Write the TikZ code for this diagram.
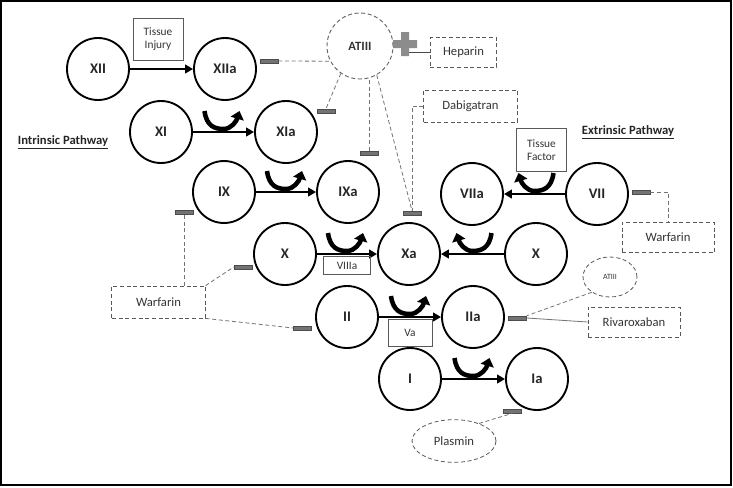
\documentclass[tikz,border=0pt]{standalone}
\usepackage{fontspec}
\setmainfont{Carlito}
\usetikzlibrary{positioning,arrows.meta,shapes.geometric}

\tikzset{
  cofr/.pic={\draw[cof] (-19,-21) .. controls (-17,-6) and (-9,-3) .. (0,-3) .. controls (8,-3) and (13,-11) .. (16,-21);}
}

\begin{document}
\begin{tikzpicture}[x=0.75pt, y=-0.75pt,
        fac/.style={circle, draw=black, line width=1.4pt, minimum size=46.5pt, inner sep=0pt, text=black!85, font=\fontsize{11}{12}\selectfont\bfseries},
        conv/.style={line width=2pt, -{Triangle[length=6pt,width=6.5pt]}},
        cof/.style={line width=3.4pt, -{Triangle[length=6pt,width=10pt]}},
        drug/.style={rectangle, draw=black!65, densely dashed, line width=0.6pt, inner sep=0pt, text=black!80, font=\fontsize{9.5}{11}\selectfont},
        cobox/.style={rectangle, draw=black!65, line width=0.7pt, inner sep=0pt, align=center, text=black!80, font=\fontsize{8.5}{10}\selectfont},
        inh/.style={rectangle, fill=black!55, draw=black!70, line width=0.4pt, minimum width=13.5pt, minimum height=3pt, inner sep=0pt},
        inhl/.style={draw=black!55, line width=0.6pt, densely dashed},
        ptitle/.style={font=\fontsize{9.5}{11}\selectfont\bfseries, text=black!85}
    ]
    \useasboundingbox (0,0) rectangle (733,487);
    \draw[line width=1.6pt] (1,1) rectangle (731,485);

    % intrinsic side
    \node[fac]   (xii)   at (98,69)   {XII};
    \node[fac]   (xiia)  at (225,69)  {XIIa};
    \node[fac]   (xi)    at (161,132) {XI};
    \node[fac]   (xia)   at (286,132) {XIa};
    \node[fac]   (ix)    at (224,192) {IX};
    \node[fac]   (ixa)   at (348,192) {IXa};
    \node[fac]   (xl)    at (285,254) {X};
    \node[fac]   (xa)    at (409,254) {Xa};
    \node[fac]   (ii)    at (347,317) {II};
    \node[fac]   (iia)   at (473,317) {IIa};
    \node[fac]   (i)     at (410,379) {I};
    \node[fac]   (ia)    at (537,379) {Ia};

    % extrinsic side
    \node[fac]   (viia)  at (472,194) {VIIa};
    \node[fac]   (vii)   at (597,194) {VII};
    \node[fac]   (xr)    at (536,254) {X};

    \node[ptitle] (intr) at (63,142)  {\underline{Intrinsic Pathway}};
    \node[ptitle] (extr) at (628,132) {\underline{Extrinsic Pathway}};

    \node[cobox, minimum width=37.5pt, minimum height=31.5pt] (tinj) at (158,39)    {Tissue\\Injury};
    \node[cobox, minimum width=37pt, minimum height=32pt]     (tfac) at (541.5,150) {Tissue\\Factor};

    % conversions
    \draw[conv] (xii) -- (xiia);
    \draw[conv] (xi) -- (xia) coordinate[midway] (mxi);
    \draw[conv] (ix) -- (ixa) coordinate[midway] (mix);
    \draw[conv] (xl) -- (xa) coordinate[midway] (mxl);
    \draw[conv] (xr) -- (xa) coordinate[midway] (mxr);
    \draw[conv] (vii) -- (viia) coordinate[midway] (mvii);
    \draw[conv] (ii) -- (iia) coordinate[midway] (mii);
    \draw[conv] (i) -- (ia) coordinate[midway] (mi);

    \pic at (mxi) {cofr};
    \pic at (mix) {cofr};
    \pic at (mxl) {cofr};
    \pic at (mii) {cofr};
    \pic at (mi) {cofr};
    \pic[xscale=-1] at (mxr) {cofr};
    \pic[xscale=-1] at (mvii) {cofr};

    \node[cobox, minimum width=35pt, minimum height=13.5pt, below=1.5pt of mxl] (viiia) {VIIIa};
    \node[cobox, minimum width=33pt, minimum height=20pt, below=1.5pt of mii]  (va)    {Va};

    % drugs
    \node[circle, draw=black!60, densely dashed, line width=0.7pt, minimum size=49.5pt, inner sep=0pt, font=\fontsize{9.5}{10}\selectfont\bfseries, text=black!80] (atiii) at (360,46) {ATIII};
    \node[drug, minimum width=50pt, minimum height=22pt]   (hep)   at (463.5,52.5) {Heparin};
    \node[drug, minimum width=70pt, minimum height=24pt]   (dabi)  at (470.5,106)  {Dabigatran};
    \node[drug, minimum width=69pt, minimum height=23pt]   (warfr) at (668,237.5)  {Warfarin};
    \node[drug, minimum width=70pt, minimum height=24pt]   (warfl) at (158.5,302)  {Warfarin};
    \node[drug, minimum width=69pt, minimum height=22.5pt] (riva)  at (634,322)    {Rivaroxaban};
    \node[drug, ellipse, minimum width=40.5pt, minimum height=30pt, font=\fontsize{6}{7}\selectfont] (atiiis) at (610,277) {ATIII};
    \node[drug, ellipse, minimum width=63pt, minimum height=32pt] (plas) at (454,441) {Plasmin};

    % inhibition bars
    \node[inh] (bxiia) at (269,61)    {};
    \node[inh] (bxia)  at (326,111)   {};
    \node[inh] (bixa)  at (369,153)   {};
    \node[inh] (bxa)   at (412,213)   {};
    \node[inh] (bix)   at (184.5,212) {};
    \node[inh] (bxl)   at (243,267)   {};
    \node[inh] (bii)   at (302.5,328) {};
    \node[inh] (bvii)  at (641,192)   {};
    \node[inh] (biia)  at (517.5,318) {};
    \node[inh] (bia)   at (512.5,411) {};

    \draw[inhl] (bxiia.east) -- (atiii.207);
    \draw[inhl] (atiii.235) -- (bxia.north);
    \draw[inhl] (bixa.north) -- (bixa.north |- atiii.south);
    \draw[inhl] (atiii.300) -- (bxa.north);
    \draw[inhl] (dabi.west) -| (bxa.north);
    \draw[inhl] (bvii.east) -| (warfr.north);
    \draw[inhl] (warfl.north -| bix) -- (bix.south);
    \draw[inhl] (warfl.north east) -- (bxl.west);
    \draw[inhl] (warfl.south east) -- (bii.west);
    \draw[inhl] (atiiis.220) -- (biia.north east);
    \draw[draw=black!55, line width=0.6pt] (biia.east) -- (riva.west);
    \draw[inhl] (plas.35) -- (bia.south);

    % heparin activates ATIII
    \coordinate (plus) at (405,44);
    \draw[black!70, line width=0.7pt] (hep.west) -- (hep.west -| plus);
    \fill[black!45, shift={(plus)}] (-12,-4) rectangle (12,4) (-4,-12) rectangle (4,12);
\end{tikzpicture}
\end{document}
